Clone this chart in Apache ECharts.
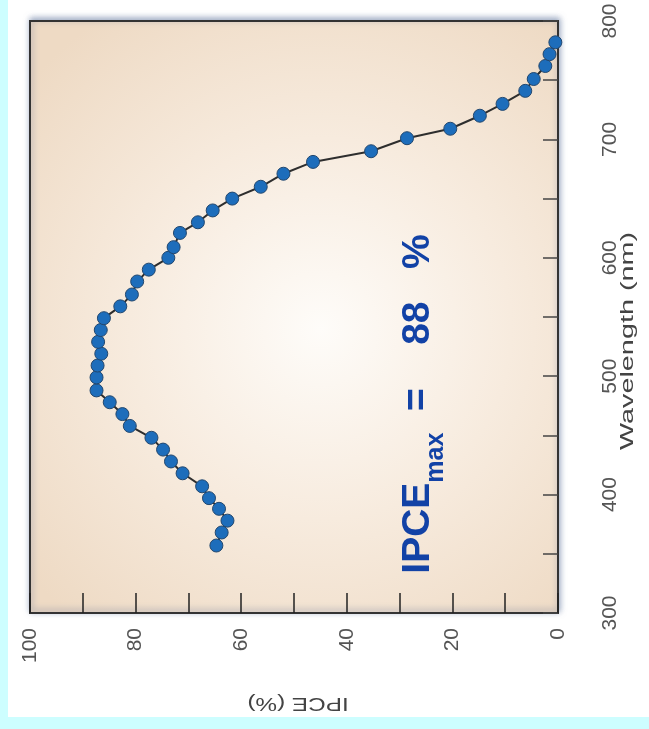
<!DOCTYPE html>
<html>
<head>
<meta charset="utf-8">
<script src="https://cdn.jsdelivr.net/npm/echarts@6/dist/echarts.min.js"></script>
<style>
  html, body { margin: 0; padding: 0; background: #cdfeff; }
  #panel { position: absolute; left: 8px; top: 0; width: 641px; height: 717px; background: #ffffff; }
  #chart { position: absolute; left: 0; top: 0; width: 649px; height: 729px; }
</style>
</head>
<body>
<div id="panel"></div>
<div id="chart"></div>
<script>
// Wavelength (nm) of each measured point
const wavelength = [357,368,378,388,397,407,418,428,438,448,458,468,478,488,499,509,519,529,539,549,559,
                    569,580,590,600,609,621,630,640,650,660,671,681,690,701,709,720,730,741,751,762,772,782];
// IPCE (%) of each measured point
const ipce = [64.7,63.7,62.6,64.2,66.1,67.4,71.1,73.3,74.8,77.0,81.1,82.5,84.9,87.4,87.4,87.2,86.5,87.1,86.6,86.0,82.9,
              80.7,79.7,77.5,73.8,72.8,71.6,68.2,65.4,61.7,56.3,52.0,46.4,35.4,28.6,20.4,14.8,10.5,6.2,4.6,2.4,1.6,0.5];
const ipceTicks = [0, 20, 40, 60, 80, 100];
const wlTicks = [300, 400, 500, 600, 700, 800];
const xName = 'IPCE (%)';
const yName = 'Wavelength (nm)';
const annotation = { main: 'IPCE', sub: 'max', rest: '  =    88   %' };

const points = wavelength.map((w, i) => [ipce[i], w]);

const G = { left: 30, right: 91, top: 21, bottom: 116, W: 649, H: 729 };
const FONT = 'Liberation Sans, Arial, sans-serif';

const chart = echarts.init(document.getElementById('chart'), null, { renderer: 'canvas' });
const labelFont = { color: '#555', fontSize: 21, fontFamily: FONT };

chart.setOption({
  backgroundColor: 'transparent',
  animation: false,
  grid: {
    left: G.left, right: G.right, top: G.top, bottom: G.bottom,
    show: true,
    borderColor: '#333',
    borderWidth: 2,
    backgroundColor: {
      type: 'radial', x: 0.55, y: 0.52, r: 0.72,
      colorStops: [
        { offset: 0, color: '#fefcf9' },
        { offset: 0.5, color: '#f7ebde' },
        { offset: 1, color: '#eedac4' }
      ]
    },
    shadowBlur: 6,
    shadowColor: 'rgba(70,95,140,0.55)',
    shadowOffsetX: 1,
    shadowOffsetY: -2
  },
  xAxis: {
    type: 'value', min: 0, max: 100, interval: 10, inverse: true, position: 'bottom',
    axisLine: { show: true, lineStyle: { color: '#333', width: 2 } },
    axisTick: { show: true, inside: true, length: 20, lineStyle: { color: '#222', width: 1.5 } },
    splitLine: { show: false },
    axisLabel: Object.assign({ rotate: 90, margin: 15,
      formatter: v => ipceTicks.includes(v) ? String(v) : '' }, labelFont)
  },
  yAxis: {
    type: 'value', min: 300, max: 800, interval: 50, position: 'right',
    axisLine: { show: true, lineStyle: { color: '#333', width: 2 } },
    axisTick: { show: true, inside: true, length: 15, lineStyle: { color: '#444', width: 1.5 } },
    splitLine: { show: false },
    axisLabel: Object.assign({ rotate: 90, margin: 42,
      formatter: v => wlTicks.includes(v) ? String(v) : '' }, labelFont)
  },
  series: [{
    type: 'line',
    data: points,
    symbol: 'circle',
    symbolSize: 13,
    clip: false,
    lineStyle: { color: '#2e2e2e', width: 2 },
    itemStyle: { color: '#1d6dbb', borderColor: '#22476e', borderWidth: 1 }
  }],
  graphic: [
    {
      type: 'text',
      x: 298, y: 703,
      rotation: Math.PI,
      scaleX: 1.35,
      style: { text: xName, align: 'center', verticalAlign: 'middle', fill: '#444', fontSize: 18, fontFamily: FONT }
    },
    {
      type: 'text',
      x: 628, y: 341,
      rotation: Math.PI / 2,
      scaleX: 1.6,
      style: { text: yName, align: 'center', verticalAlign: 'middle', fill: '#444', fontSize: 18, fontFamily: FONT }
    },
    {
      type: 'text',
      x: 424, y: 404,
      rotation: Math.PI / 2,
      style: {
        text: '{a|' + annotation.main + '}{b|' + annotation.sub + '}{a|' + annotation.rest + '}',
        align: 'center', verticalAlign: 'middle',
        rich: {
          a: { fontSize: 39, fontWeight: 'bold', fill: '#1242a6', fontFamily: FONT, verticalAlign: 'bottom', padding: [0, 0, 11, 0] },
          b: { fontSize: 25, fontWeight: 'bold', fill: '#1242a6', fontFamily: FONT, verticalAlign: 'bottom' }
        }
      },
      z: 10
    }
  ]
});
</script>
</body>
</html>
